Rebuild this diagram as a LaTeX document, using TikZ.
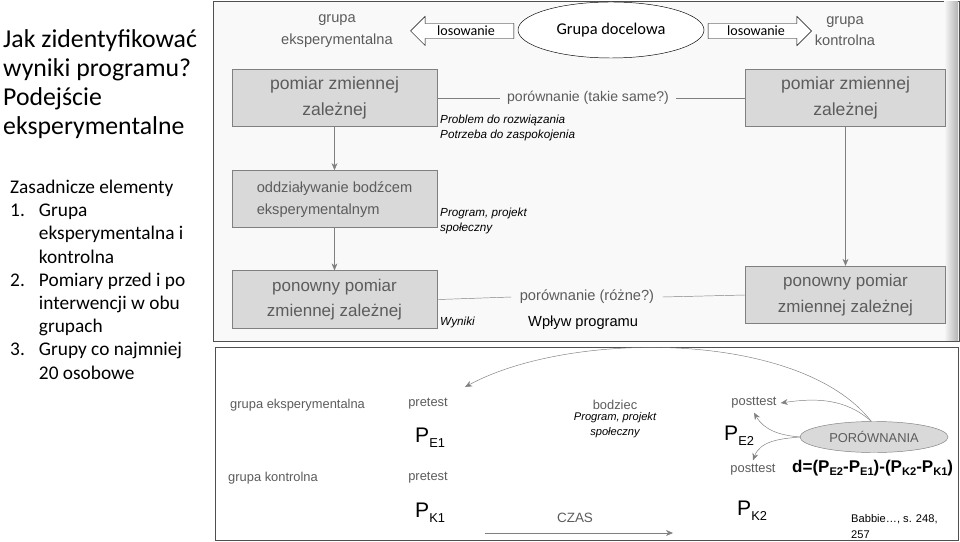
\documentclass[tikz,border=0pt]{standalone}
\usepackage{fontspec}
\setmainfont{Carlito}
\newfontfamily\scanfont{Liberation Sans}
\usetikzlibrary{positioning}
\usetikzlibrary{shapes.geometric, shapes.arrows}
\usetikzlibrary{arrows.meta}
\definecolor{inkgray}{HTML}{5C5C5C}
\definecolor{boxgray}{HTML}{D9D9D9}
\definecolor{framegray}{HTML}{505050}
\newcommand{\meas}[2]{{\fontsize{18}{20}\selectfont P}\raisebox{-4.5pt}{\fontsize{11}{12}\selectfont #2}}
\newcommand{\dsub}[1]{\raisebox{-3pt}{\fontsize{9.5}{10}\selectfont #1}}
\tikzset{
    stage/.style={
           rectangle,
           draw=gray, thick,
           fill=boxgray,
           minimum width=6.15cm,
           minimum height=1.72cm,
           text=inkgray,
           align=center,
           font=\scanfont\fontsize{14.5}{22}\selectfont,
           },
    drawn/.style={text=inkgray, align=center, font=\scanfont\fontsize{12.5}{18.5}\selectfont},
    small/.style={text=inkgray, font=\scanfont\fontsize{11}{13}\selectfont},
    remark/.style={anchor=west, align=left, inner sep=0pt,
           font=\scanfont\itshape\fontsize{10}{12.8}\selectfont},
    draw lot/.style={
           single arrow, draw=black,
           minimum height=3.1cm,
           single arrow head extend=6pt,
           inner ysep=2pt,
           font=\fontsize{12}{14}\selectfont,
           },
    flow/.style={draw=gray, -{Stealth[length=6pt,width=5pt]}},
}

\begin{document}
\begin{tikzpicture}[x=0.03cm, y=-0.03cm]
      \useasboundingbox (0,0) rectangle (960,542);
      % slide text
      \node[anchor=north west, align=left, inner sep=0pt,
            font=\fontsize{22}{25}\selectfont] (title) at (3,29)
            {Jak zidentyfikować\\wyniki programu?\\Podejście\\eksperymentalne};
      \node[anchor=north west, inner sep=0pt, font=\fontsize{16.5}{19.8}\selectfont] (elements) at (10,177)
            {\begin{tabular}{@{}l@{\hspace{12pt}}l@{}}
             \multicolumn{2}{@{}l@{}}{Zasadnicze elementy}\\
             1. & Grupa\\ & eksperymentalna i\\ & kontrolna\\
             2. & Pomiary przed i po\\ & interwencji w obu\\ & grupach\\
             3. & Grupy co najmniej\\ & 20 osobowe
             \end{tabular}};

      % upper scan
      \draw[framegray, fill=gray!5] (213,1) rectangle (959,341);
      \shade[left color=gray!5, right color=gray!60] (944,2) rectangle (958,340);
      \node[ellipse, draw=black, fill=white, minimum width=5.58cm, minimum height=1.68cm,
            font=\fontsize{14}{16}\selectfont] (target) at (611,30) {Grupa docelowa};
      \node[draw lot, shape border rotate=180, fill=white] (lotE) at (466,31) {losowanie};
      \node[draw lot, fill=white] (lotK) at (756,31) {losowanie};
      \node[drawn] (groupE) at (337,31) {grupa\\eksperymentalna};
      \node[drawn] (groupK) at (845,31) {grupa\\kontrolna};

      \node[stage, font=\scanfont\fontsize{15}{22}\selectfont] (box1) at (334.5,98) {pomiar zmiennej\\zależnej};
      \node[stage, align=left, font=\scanfont\fontsize{12.5}{19}\selectfont] (box2) [below=1.29cm of box1]
            {oddziaływanie bodźcem\\eksperymentalnym};
      \node[stage] (box3) [below=1.26cm of box2] {ponowny pomiar\\zmiennej zależnej};
      \node[stage, minimum width=6.0cm, font=\scanfont\fontsize{15}{22}\selectfont] (rbox1) at (845.5,98) {pomiar zmiennej\\zależnej};
      \node[stage, minimum width=6.0cm] (rbox3) at (845.5,295) {ponowny pomiar\\zmiennej zależnej};

      \node[drawn, font=\scanfont\fontsize{12}{14}\selectfont, inner xsep=6pt] (same) at (588,98) {porównanie (takie same?)};
      \node[drawn, font=\scanfont\fontsize{12.5}{14}\selectfont, inner xsep=7pt] (differ) at (587,297) {porównanie (różne?)};
      \draw[gray] (box1.east) -- (same.west);
      \draw[gray] (same.east) -- (rbox1.west);
      \draw[gray] (box3.east) -- (differ.west);
      \draw[gray] (differ.east) -- (rbox3.west);
      \draw[flow] (box1) -- (box2);
      \draw[flow] (box2) -- (box3);
      \draw[flow] (rbox1) -- (rbox3);

      \node[remark] (problem) at (440,128) {Problem do rozwiązania\\Potrzeba do zaspokojenia};
      \node[remark] (project) at (440,221) {Program, projekt\\społeczny};
      \node[remark] (results) at (440,322) {Wyniki};
      \node[anchor=west, inner sep=0pt, font=\scanfont\fontsize{12.5}{14}\selectfont] (impact) at (528,323) {Wpływ programu};

      % lower scan
      \draw[framegray, fill=white] (215,347) rectangle (958,540);
      \node[small, anchor=west, inner sep=0pt] (rowE) at (230,405) {grupa eksperymentalna};
      \node[small, anchor=west, inner sep=0pt] (rowK) at (228,478) {grupa kontrolna};
      \node[small] (preE) at (428,404) {pretest};
      \node[small] (preK) at (428,478) {pretest};
      \node[anchor=base west, inner sep=0pt, font=\scanfont] (pE1) at (415,442) {\meas{P}{E1}};
      \node[anchor=base west, inner sep=0pt, font=\scanfont] (pK1) at (415,517) {\meas{P}{K1}};
      \node[small] (stim) at (615,405) {bodziec};
      \node[remark, anchor=north, align=center, font=\scanfont\itshape\fontsize{9.5}{13}\selectfont] (stimnote) at (615,412)
            {Program, projekt\\społeczny};
      \node[small] (postE) at (754,403) {posttest};
      \node[small] (postK) at (753,470) {posttest};
      \node[anchor=base west, inner sep=0pt, font=\scanfont] (pE2) at (724,440) {\meas{P}{E2}};
      \node[anchor=base west, inner sep=0pt, font=\scanfont] (pK2) at (737,515) {\meas{P}{K2}};
      \node[ellipse, draw=gray, fill=boxgray, minimum width=4.44cm, minimum height=0.93cm,
            text=inkgray, font=\scanfont\fontsize{11}{13}\selectfont] (compare) at (874,437) {PORÓWNANIA};
      \node[anchor=west, inner sep=0pt, font=\scanfont\bfseries\fontsize{14.5}{16}\selectfont] (dform) at (792,468)
            {d=(P\dsub{E2}-P\dsub{E1})-(P\dsub{K2}-P\dsub{K1})};
      \node[anchor=north west, align=left, inner sep=0pt, font=\scanfont\fontsize{9.5}{14}\selectfont] (source) at (851,514)
            {Babbie…, s. 248,\\257};
      \node[small, font=\scanfont\fontsize{11.5}{13}\selectfont] (time) at (575,518) {CZAS};
      \coordinate (timeL) at (485,533);
      \coordinate (timeR) at (673,533);
      \coordinate (stimtip) at (465,387);
      \draw[flow] (timeL) -- (timeR);
      \draw[flow] (compare.100) .. controls (800,330) and (570,330) .. (stimtip);
      \draw[flow] (compare.100) .. controls (845,398) and (815,398) .. (postE.east);
      \draw[flow] (compare.west) to[out=175, in=-60] (postE.south);
      \draw[flow] (compare.west) to[out=185, in=70] (postK.north);
\end{tikzpicture}
\end{document}
